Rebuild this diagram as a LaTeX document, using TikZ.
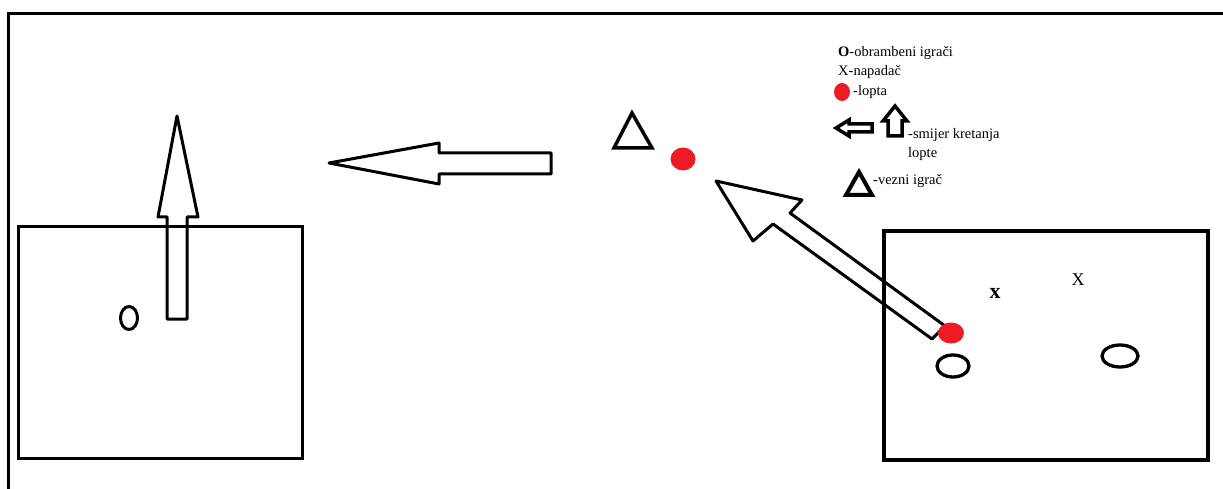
\documentclass[tikz,border=0pt]{standalone}
\usepackage{fontspec}
\setmainfont{Liberation Serif}
\definecolor{ballred}{RGB}{237,28,36}
\begin{document}
\begin{tikzpicture}[x=1pt,y=-1pt,
  thick line/.style={line width=3pt, line join=miter},
  arrowshape/.style={draw=black, line width=3pt, line join=round},
  legtext/.style={anchor=west, inner sep=0pt, font=\fontsize{14.5}{16}\selectfont},
  ball/.style={fill=ballred, draw=none}]
\useasboundingbox (0,0) rectangle (1223,489);
% outer frame
\draw[line width=3pt] (8,489) -- (8,14) -- (1223,14);
% left box
\draw[thick line] (18,226) rectangle (302,458);
% right box
\draw[line width=4pt] (884,231) rectangle (1208,460);
% left box up arrow
\draw[arrowshape] (167,319) -- (167,217) -- (158,217) -- (177,116) -- (198,217) -- (187,217) -- (187,319) -- cycle;
% player O left
\draw[line width=3pt] (129,318) ellipse [x radius=8.5, y radius=11.5];
% top left arrow
\draw[arrowshape] (551,153) -- (439,153) -- (439,143) -- (329,163) -- (439,184) -- (439,174) -- (551,174) -- cycle;
% midfielder triangle
\draw[line width=3.5pt, line join=miter] (614,148) -- (632,113) -- (652,148) -- cycle;
% ball middle
\fill[ball] (683,159) ellipse [x radius=12.5, y radius=11.5];
% diagonal arrow
\draw[arrowshape] (716,181) -- (802,200) -- (790,213) -- (945,326) -- (932,339) -- (773,224) -- (753,241) -- cycle;
% ball right
\fill[ball] (951,333) ellipse [x radius=13, y radius=10.5];
% right box players
\draw[line width=3.3pt] (953,366) ellipse [x radius=16, y radius=11];
\draw[line width=3.3pt] (1120,356) ellipse [x radius=18, y radius=11];
\node[inner sep=0pt, font=\fontsize{22}{24}\selectfont\bfseries] (xa) at (995,293) {x};
\node[inner sep=0pt, font=\fontsize{18}{20}\selectfont] (xb) at (1078,280) {X};
% legend
\node[legtext] (l1) at (838,53) {\textbf{O}-obrambeni igrači};
\node[legtext] (l2) at (838,72) {X-napadač};
\fill[ball] (842,92) ellipse [x radius=8, y radius=9];
\node[legtext] (l3) at (853,92) {-lopta};
\draw[line width=3.5pt, line join=miter] (872,124) -- (849,124) -- (849,120) -- (836,128) -- (849,136) -- (849,132) -- (872,132) -- cycle;
\draw[line width=3.5pt, line join=miter] (888,136) -- (888,121) -- (883,121) -- (895,106) -- (907,121) -- (902,121) -- (902,136) -- cycle;
\node[legtext] (l4) at (908,135) {-smijer kretanja};
\node[legtext] (l5) at (908,154) {lopte};
\draw[line width=4pt, line join=miter] (846,195) -- (859,172) -- (872,195) -- cycle;
\node[legtext] (l6) at (873,181) {-vezni igrač};
\end{tikzpicture}
\end{document}
